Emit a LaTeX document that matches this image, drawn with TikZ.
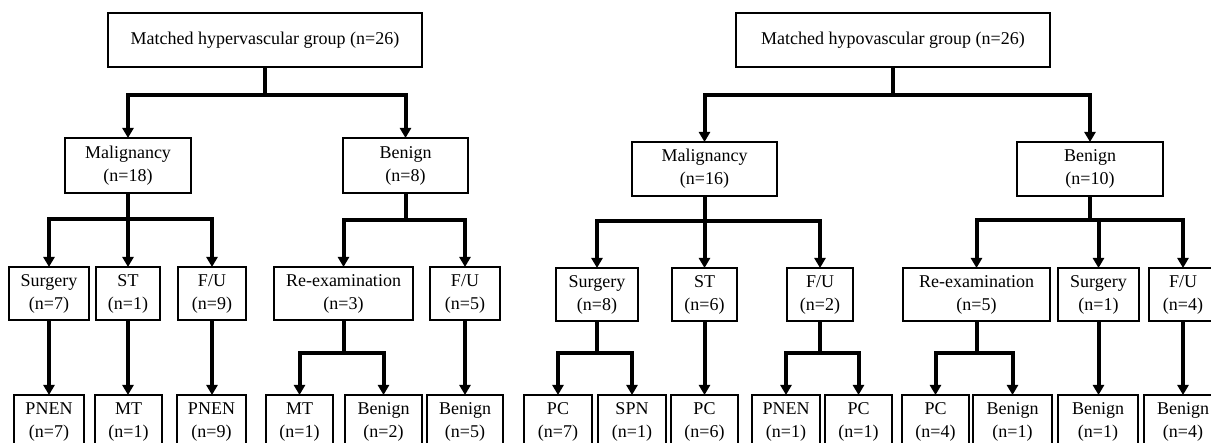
\documentclass[tikz,border=0pt]{standalone}
\usepackage{fontspec}
\setmainfont{Liberation Serif}
\usetikzlibrary{arrows.meta}
\tikzset{
  box/.style={draw, line width=1.2pt, inner sep=0pt, outer sep=0pt, align=center,
    font=\fontsize{18}{23}\selectfont},
  ln/.style={line width=4pt},
  arr/.style={line width=4pt, line join=miter, -{Triangle[length=10pt,width=11pt]}}
}
\newcommand\bx[6]{\node[box, minimum width={(#4-#2)*1pt}, minimum height={(#5-#3)*1pt}] (#1) at ({(#2+#4)/2},{(#3+#5)/2}) {#6};}
\begin{document}
\begin{tikzpicture}[x=1pt,y=-1pt]
\useasboundingbox (0,0) rectangle (1211,443);
\clip (0,0) rectangle (1211,443);
% ---------- left tree ----------
\bx{topA}{108}{13}{422}{67}{Matched hypervascular group (n=26)}
\bx{malA}{65}{138}{191}{193}{Malignancy\\(n=18)}
\bx{benA}{343}{138}{468}{193}{Benign\\(n=8)}
\bx{surA}{9}{267}{89}{320}{Surgery\\(n=7)}
\bx{stA}{96}{267}{160}{320}{ST\\(n=1)}
\bx{fuA}{178}{267}{246}{320}{F/U\\(n=9)}
\bx{reA}{274}{267}{413}{320}{Re-examination\\(n=3)}
\bx{fuB}{430}{267}{500}{320}{F/U\\(n=5)}
\bx{pnA}{14}{395}{84}{449}{PNEN\\(n=7)}
\bx{mtA}{95}{395}{162}{449}{MT\\(n=1)}
\bx{pnB}{177}{395}{246}{449}{PNEN\\(n=9)}
\bx{mtB}{266}{395}{333}{449}{MT\\(n=1)}
\bx{bnA}{345}{395}{422}{449}{Benign\\(n=2)}
\bx{bnB}{427}{395}{503}{449}{Benign\\(n=5)}
% connectors left
\draw[ln] (topA.south) -- (topA.south |- 0,95) coordinate (jA);
\draw[arr] (jA) -| (malA.north);
\draw[arr] (jA) -| (benA.north);
\draw[ln] (malA.south) -- (malA.south |- 0,219) coordinate (jB);
\draw[arr] (jB) -| (surA.north);
\draw[arr] (jB) -- (jB |- stA.north);
\draw[arr] (jB) -| (fuA.north);
\draw[ln] (benA.south) -- (benA.south |- 0,220) coordinate (jC);
\draw[arr] (jC) -| (reA.north);
\draw[arr] (jC) -| (fuB.north);
\draw[arr] (surA.south) -- (surA.south |- pnA.north);
\draw[arr] (stA.south) -- (stA.south |- mtA.north);
\draw[arr] (fuA.south) -- (fuA.south |- pnB.north);
\draw[ln] (reA.south) -- (reA.south |- 0,353) coordinate (jD);
\draw[arr] (jD) -| (mtB.north);
\draw[arr] (jD) -| (bnA.north);
\draw[arr] (fuB.south) -- (fuB.south |- bnB.north);
% ---------- right tree ----------
\bx{topB}{736}{13}{1050}{67}{Matched hypovascular group (n=26)}
\bx{malB}{632}{142}{777}{196}{Malignancy\\(n=16)}
\bx{benC}{1017}{142}{1163}{196}{Benign\\(n=10)}
\bx{surB}{556}{268}{638}{321}{Surgery\\(n=8)}
\bx{stB}{672}{268}{737}{321}{ST\\(n=6)}
\bx{fuC}{787}{268}{853}{321}{F/U\\(n=2)}
\bx{reB}{903}{268}{1050}{321}{Re-examination\\(n=5)}
\bx{surC}{1058}{268}{1139}{321}{Surgery\\(n=1)}
\bx{fuD}{1149}{268}{1217}{321}{F/U\\(n=4)}
\bx{pcA}{524}{395}{592}{449}{PC\\(n=7)}
\bx{spA}{598}{395}{666}{449}{SPN\\(n=1)}
\bx{pcB}{671}{395}{738}{449}{PC\\(n=6)}
\bx{pnC}{752}{395}{820}{449}{PNEN\\(n=1)}
\bx{pcC}{825}{395}{892}{449}{PC\\(n=1)}
\bx{pcD}{902}{395}{969}{449}{PC\\(n=4)}
\bx{bnC}{973}{395}{1052}{449}{Benign\\(n=1)}
\bx{bnD}{1058}{395}{1138}{449}{Benign\\(n=1)}
\bx{bnE}{1144}{395}{1222}{449}{Benign\\(n=4)}
% connectors right
\draw[ln] (topB.south) -- (topB.south |- 0,95) coordinate (jE);
\draw[arr] (jE) -| (malB.north);
\draw[arr] (jE) -| (benC.north);
\draw[ln] (malB.south) -- (malB.south |- 0,221) coordinate (jF);
\draw[arr] (jF) -| (surB.north);
\draw[arr] (jF) -- (jF |- stB.north);
\draw[arr] (jF) -| (fuC.north);
\draw[ln] (benC.south) -- (benC.south |- 0,220) coordinate (jG);
\draw[arr] (jG) -| (reB.north);
\draw[arr] (jG) -| (surC.north);
\draw[arr] (jG) -| (fuD.north);
\draw[ln] (surB.south) -- (surB.south |- 0,353) coordinate (jH);
\draw[arr] (jH) -| (pcA.north);
\draw[arr] (jH) -| (spA.north);
\draw[arr] (stB.south) -- (stB.south |- pcB.north);
\draw[ln] (fuC.south) -- (fuC.south |- 0,353) coordinate (jI);
\draw[arr] (jI) -| (pnC.north);
\draw[arr] (jI) -| (pcC.north);
\draw[ln] (reB.south) -- (reB.south |- 0,353) coordinate (jJ);
\draw[arr] (jJ) -| (pcD.north);
\draw[arr] (jJ) -| (bnC.north);
\draw[arr] (surC.south) -- (surC.south |- bnD.north);
\draw[arr] (fuD.south) -- (fuD.south |- bnE.north);
\end{tikzpicture}
\end{document}
